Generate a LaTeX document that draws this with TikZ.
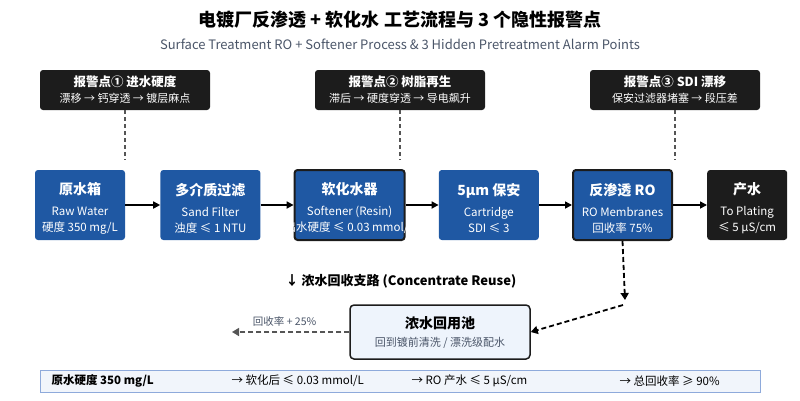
\documentclass[tikz,border=0pt]{standalone}
\usepackage{fontspec}
\setmainfont{Noto Sans CJK SC}
\usetikzlibrary{positioning,arrows.meta}
\definecolor{stageblue}{HTML}{1F58A3}
\definecolor{alarmdark}{HTML}{1C1C1C}
\definecolor{noteline}{HTML}{555555}
\definecolor{reusefill}{HTML}{EEF4FC}
\definecolor{barfill}{HTML}{F1F5FB}
\definecolor{barline}{HTML}{8EAADB}
\definecolor{subgrey}{HTML}{4A5568}
\newcommand{\stagetext}[3]{{\bfseries\fontsize{14}{16}\selectfont\rule{0pt}{19pt}#1}\\[5pt]#2\\#3}
\newcommand{\alarmtext}[2]{{\bfseries\fontsize{12.5}{15}\selectfont #1}\\[1pt]#2}

\begin{document}
\begin{tikzpicture}[x=1pt,y=-1pt,
    stagebox/.style={fill=stageblue, rounded corners=3pt, text=white, align=center,
      minimum height=70pt, inner sep=0pt, font=\fontsize{11.5}{16}\selectfont},
    keystage/.style={stagebox, draw=alarmdark, line width=2pt},
    outbox/.style={stagebox, fill=alarmdark},
    alarmbox/.style={fill=alarmdark, rounded corners=3pt, text=white, align=center,
      minimum width=170pt, minimum height=40pt, inner sep=0pt, font=\fontsize{11}{15}\selectfont},
    flow/.style={-{Triangle[length=7pt,width=7pt]}, line width=1.6pt},
    hint/.style={noteline, line width=1.6pt, dash pattern=on 4pt off 3pt},
    reject/.style={-{Triangle[length=7pt,width=8pt]}, line width=1.8pt, dash pattern=on 5pt off 3pt}]
  \useasboundingbox (0,0) rectangle (800,400);

  % title
  \node[font=\bfseries\fontsize{18}{22}\selectfont] (title) at (400,20)
    {电镀厂反渗透 + 软化水 工艺流程与 3 个隐性报警点};
  \node[font=\fontsize{13}{15}\selectfont, text=subgrey] (subtitle) at (400,44)
    {Surface Treatment RO + Softener Process \& 3 Hidden Pretreatment Alarm Points};

  % alarm points
  \node[alarmbox] (alarmA) at (125,90) {\alarmtext{报警点① 进水硬度}{漂移 → 钙穿透 → 镀层麻点}};
  \node[alarmbox] (alarmB) at (400,90) {\alarmtext{报警点② 树脂再生}{滞后 → 硬度穿透 → 导电飙升}};
  \node[alarmbox] (alarmC) at (675,90) {\alarmtext{报警点③ SDI 漂移}{保安过滤器堵塞 → 段压差}};
  \coordinate (tipA) at (125,160);
  \coordinate (tipB) at (400,160);
  \coordinate (tipC) at (675,160);
  \draw[hint] (alarmA) -- (tipA);
  \draw[hint] (alarmB) -- (tipB);
  \draw[hint] (alarmC) -- (tipC);

  % main line
  \node[stagebox, minimum width=90pt] (rawtank) at (80,205)
    {\stagetext{原水箱}{Raw Water}{硬度 350 mg/L}};
  \node[stagebox, minimum width=100pt, right=35pt of rawtank] (sandf)
    {\stagetext{多介质过滤}{Sand Filter}{浊度 ≤ 1 NTU}};
  \node[keystage, minimum width=110pt, right=33pt of sandf] (soften)
    {\stagetext{软化水器}{Softener (Resin)}{\makebox[0pt]{出水硬度 ≤ 0.03 mmol/L}}};
  \node[stagebox, minimum width=100pt, right=33pt of soften] (cartr)
    {\stagetext{5μm 保安}{Cartridge}{SDI ≤ 3}};
  \node[keystage, minimum width=99pt, right=33pt of cartr] (romem)
    {\stagetext{反渗透 RO}{RO Membranes}{回收率 75\%}};
  \node[outbox, minimum width=80pt, right=34pt of romem] (product)
    {\stagetext{产水}{To Plating}{≤ 5 μS/cm}};
  \draw[flow] (rawtank) -- (sandf);
  \draw[flow] (sandf) -- (soften);
  \draw[flow] (soften) -- (cartr);
  \draw[flow] (cartr) -- (romem);
  \draw[flow] (romem) -- (product);

  % concentrate branch
  \node[font=\bfseries\fontsize{13}{15}\selectfont] (branch) at (401,281)
    {↓ 浓水回收支路 (Concentrate Reuse)};
  \node[draw=alarmdark, line width=1.5pt, fill=reusefill, rounded corners=4pt,
    minimum width=180pt, minimum height=54pt, align=center, inner sep=0pt,
    font=\fontsize{11}{14}\selectfont, text=subgrey] (reuse) at (440,332)
    {{\bfseries\fontsize{14}{16}\selectfont\color{black}浓水回用池}\\[4pt]回到镀前清洗 / 漂洗级配水};
  \coordinate (rodrop) at (625,300);
  \coordinate (bend) at (623,305);
  \coordinate (rinse) at (232,332);
  \draw[reject] (romem.south) -- (rodrop);
  \draw[reject] (bend) -- (reuse.east);
  \draw[reject, line width=1.5pt, noteline] (reuse.west) -- (rinse)
    node[midway, above=2pt, xshift=-6pt, font=\fontsize{10.5}{12}\selectfont, text=subgrey] (gain) {回收率 + 25\%};

  % summary bar
  \draw[fill=barfill, draw=barline, line width=1pt] (40,370) rectangle (760,392);
  \node[anchor=west, font=\bfseries\fontsize{11.5}{13}\selectfont] (sumraw) at (48,381) {原水硬度 350 mg/L};
  \node[anchor=west, font=\fontsize{11.5}{13}\selectfont] (sumsoft) at (228,381) {→ 软化后 ≤ 0.03 mmol/L};
  \node[anchor=west, font=\fontsize{11.5}{13}\selectfont] (sumro) at (408,381) {→ RO 产水 ≤ 5 μS/cm};
  \node[anchor=west, font=\fontsize{11.5}{13}\selectfont] (sumrec) at (616,381) {→ 总回收率 ≥ 90\%};
\end{tikzpicture}
\end{document}
